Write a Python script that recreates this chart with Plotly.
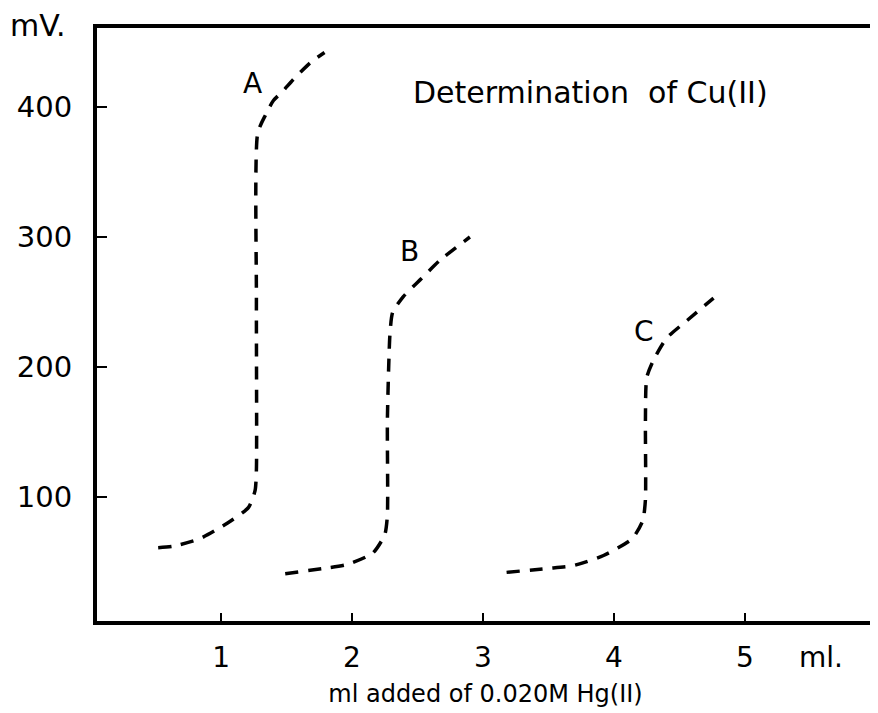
import plotly.graph_objects as go

# Curve A
a_x = [0.52, 0.63, 0.84, 1.05, 1.21, 1.26, 1.27, 1.27, 1.28, 1.34, 1.40, 1.47, 1.55, 1.68, 1.79]
a_y = [61, 62, 68, 80, 92, 105, 121, 252, 380, 394, 405, 412, 421, 434, 442]
# Curve B
b_x = [1.49, 1.78, 1.96, 2.16, 2.25, 2.27, 2.27, 2.29, 2.31, 2.39, 2.53, 2.67, 2.90]
b_y = [41, 45, 48, 57, 71, 86, 159, 226, 242, 254, 268, 282, 300]
# Curve C
c_x = [3.18, 3.49, 3.68, 3.92, 4.14, 4.22, 4.24, 4.24, 4.25, 4.30, 4.40, 4.56, 4.76]
c_y = [42, 45, 47, 55, 68, 82, 98, 159, 192, 205, 222, 236, 253]

curve_names = ["A", "B", "C"]
label_x = [1.24, 2.44, 4.23]
label_y = [418, 289, 227]

x_ticks = [1, 2, 3, 4, 5]
y_ticks = [100, 200, 300, 400]

FONT = "DejaVu Sans"

fig = go.Figure()
for xs, ys, nm in [(a_x, a_y, "A"), (b_x, b_y, "B"), (c_x, c_y, "C")]:
    fig.add_trace(go.Scatter(
        x=xs, y=ys, mode="lines", name=nm,
        line=dict(color="black", width=3.5, dash="13px,10px", shape="spline", smoothing=0.6),
        showlegend=False, hoverinfo="skip"))

for nm, lx, ly in zip(curve_names, label_x, label_y):
    fig.add_annotation(x=lx, y=ly, xref="x", yref="y", text=nm, showarrow=False,
                       xanchor="center", yanchor="middle",
                       font=dict(family=FONT, size=28, color="black"))

fig.add_annotation(x=3.82, y=411, xref="x", yref="y", text="Determination  of Cu(II)",
                   showarrow=False, xanchor="center", yanchor="middle",
                   font=dict(family=FONT, size=30, color="black"))
fig.add_annotation(x=-0.077, y=1.005, xref="paper", yref="paper", text="mV.",
                   showarrow=False, xanchor="center", yanchor="middle",
                   font=dict(family=FONT, size=30, color="black"))
fig.add_annotation(x=0.932, y=-0.061, xref="paper", yref="paper", text="ml.",
                   showarrow=False, xanchor="center", yanchor="middle",
                   font=dict(family=FONT, size=28, color="black"))

fig.update_layout(
    template="none",
    width=878, height=713,
    margin=dict(l=89, r=12, t=20, b=100, autoexpand=False),
    paper_bgcolor="white", plot_bgcolor="white",
    font=dict(family=FONT, color="black"),
    xaxis=dict(range=[0.053, 5.985], tickvals=x_ticks, ticktext=[str(v) for v in x_ticks],
               ticks="inside", ticklen=8, tickwidth=1.5, tickcolor="black",
               showgrid=False, zeroline=False, showline=True, linecolor="black",
               linewidth=4, mirror=True, automargin=False, ticklabelstandoff=8,
               tickfont=dict(family=FONT, size=28, color="black"),
               title=dict(text="ml added of 0.020M Hg(II)",
                          font=dict(family=FONT, size=24, color="black"), standoff=14)),
    yaxis=dict(range=[4.6, 460.8], tickvals=y_ticks, ticktext=[str(v) for v in y_ticks],
               ticks="inside", ticklen=10, tickwidth=1.5, tickcolor="black",
               showgrid=False, zeroline=False, showline=True, linecolor="black",
               linewidth=4, mirror=True, ticklabelstandoff=15, automargin=False,
               tickfont=dict(family=FONT, size=29, color="black")),
)

fig.write_html("out.html")
